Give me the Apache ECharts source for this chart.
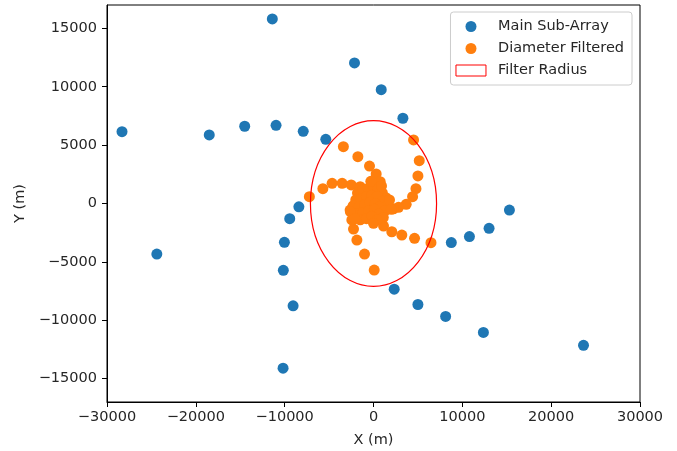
<!DOCTYPE html>
<html>
<head>
<meta charset="utf-8">
<script src="https://cdn.jsdelivr.net/npm/echarts@6/dist/echarts.min.js"></script>
<style>
  html, body { margin: 0; padding: 0; background: #fff; }
  #chart { width: 677px; height: 451px; }
</style>
</head>
<body>
<div id="chart"></div>
<script>
// Antenna positions (metres) of the main sub-array outside the filter radius
const mainSubArray = [
  [-11390, 15810], [-2140, 12040], [870, 9750], [3310, 7300],
  [-28310, 6150], [-18490, 5870], [-14500, 6615], [-10970, 6700],
  [-7910, 6180], [-5370, 5500],
  [-8400, -280], [-9430, -1300], [-10030, -3325], [-10150, -5725],
  [-9050, -8760], [-24390, -4330], [-10180, -14100],
  [2330, -7340], [5000, -8650], [8120, -9670], [12370, -11040], [23640, -12150],
  [8760, -3345], [10800, -2830], [13010, -2130], [15300, -560]
];

// Antennas kept by the diameter filter
const diameterFiltered = [
  // north-west arm
  [-3390, 4870], [-1760, 4010], [-450, 3210], [300, 2530], [755, 1870],
  // west arm
  [-7220, 580], [-5700, 1270], [-4660, 1730], [-3530, 1730], [-2510, 1590], [-1500, 1440],
  // north-east arm
  [4510, 5440], [5150, 3670], [5000, 2360], [4780, 1270], [4400, 580],
  [3680, -70], [2820, -330], [2250, -450],
  // south-east arm
  [1130, -1930], [2060, -2420], [3190, -2700], [4620, -2980], [6470, -3360],
  // south arm
  [-2630, -560], [-2440, -1410], [-2250, -2190], [-1870, -3130], [-1010, -4330], [80, -5700],
  // dense core
  [-1800, 900], [-1200, 1200], [-600, 1300], [0, 1400], [500, 1200], [1000, 900],
  [1400, 500], [-2000, 300], [-1400, 400], [-800, 600], [-200, 700], [400, 600],
  [1000, 200], [1600, -100], [-2300, -200], [-1600, -300], [-1000, -100], [-400, 100],
  [200, 0], [700, -300], [1300, -600], [-1900, -900], [-1200, -800], [-500, -600],
  [100, -500], [600, -900], [1100, -1200], [-1500, -1400], [-800, -1300], [-200, -1100],
  [400, -1400], [-2600, -700], [-2100, -1300], [900, 1500], [-300, 1900], [1800, 300],
  [2000, -500], [0, -1700]
];

// Filter radius centred on the array origin: [x, y, radius]
const filterRadius = [[0, 0, 7100]];

const xTicks = [-30000, -20000, -10000, 0, 10000, 20000, 30000];
const yTicks = [-15000, -10000, -5000, 0, 5000, 10000, 15000];

const FONT = 'DejaVu Sans';
const TEXT = '#262626';
const FS = 14.5;

const chart = echarts.init(document.getElementById('chart'), null, { renderer: 'canvas' });

const axisCommon = {
  axisLine: { show: true, onZero: false, lineStyle: { color: '#000', width: 1 } },
  axisTick: { show: true, inside: false, length: 5, lineStyle: { color: '#000' } },
  splitLine: { show: false },
  nameLocation: 'middle',
  nameTextStyle: { fontFamily: FONT, fontSize: FS, color: TEXT }
};

const minusFmt = v => (v < 0 ? '\u2212' + Math.abs(v) : String(v));

chart.setOption({
  animation: false,
  backgroundColor: '#fff',
  grid: {
    left: 107, top: 5, width: 533, height: 397,
    outerBoundsMode: 'none',
    show: true, borderColor: '#000', borderWidth: 1, backgroundColor: 'transparent'
  },
  legend: {
    orient: 'vertical',
    right: 45, top: 12,
    padding: [7, 8, 7, 5],
    itemGap: 7,
    itemWidth: 30, itemHeight: 11,
    borderColor: '#cccccc', borderWidth: 1, borderRadius: 3,
    backgroundColor: '#fff',
    textStyle: { fontFamily: FONT, fontSize: FS, color: TEXT, padding: [0, 0, 0, 7] },
    data: [
      { name: 'Main Sub-Array', icon: 'circle' },
      { name: 'Diameter Filtered', icon: 'circle' },
      { name: 'Filter Radius', icon: 'rect',
        itemStyle: { color: 'rgba(255,255,255,0)', borderColor: '#ff0000', borderWidth: 1 } }
    ]
  },
  xAxis: Object.assign({}, axisCommon, {
    type: 'value', min: -30000, max: 30000, interval: 10000,
    name: 'X (m)', nameGap: 31,
    axisLabel: { fontFamily: FONT, fontSize: FS, color: TEXT, margin: 8,
      customValues: xTicks, formatter: minusFmt },
    axisTick: Object.assign({}, axisCommon.axisTick, { customValues: xTicks })
  }),
  yAxis: Object.assign({}, axisCommon, {
    type: 'value', min: -17000, max: 17000,
    name: 'Y (m)', nameGap: 78,
    axisLabel: { fontFamily: FONT, fontSize: FS, color: TEXT, margin: 10,
      customValues: yTicks, formatter: minusFmt },
    axisTick: Object.assign({}, axisCommon.axisTick, { customValues: yTicks })
  }),
  series: [
    {
      name: 'Main Sub-Array', type: 'scatter', data: mainSubArray,
      symbol: 'circle', symbolSize: 11,
      itemStyle: { color: '#1f77b4', opacity: 1 }, z: 2
    },
    {
      name: 'Diameter Filtered', type: 'scatter', data: diameterFiltered,
      symbol: 'circle', symbolSize: 11,
      itemStyle: { color: '#ff7f0e', opacity: 1 }, z: 3
    },
    {
      name: 'Filter Radius', type: 'custom', data: filterRadius, z: 4,
      itemStyle: { color: 'rgba(255,255,255,0)', borderColor: '#ff0000' },
      renderItem: function (params, api) {
        const c = api.coord([api.value(0), api.value(1)]);
        const s = api.size([api.value(2), api.value(2)]);
        const rx = s[0], ry = s[1];
        const d = 'M' + (c[0] - rx) + ' ' + c[1] +
          ' A' + rx + ' ' + ry + ' 0 1 0 ' + (c[0] + rx) + ' ' + c[1] +
          ' A' + rx + ' ' + ry + ' 0 1 0 ' + (c[0] - rx) + ' ' + c[1] + ' Z';
        return {
          type: 'path',
          shape: { pathData: d },
          style: { fill: 'none', stroke: '#ff0000', lineWidth: 1.2 }
        };
      }
    }
  ]
});
</script>
</body>
</html>
